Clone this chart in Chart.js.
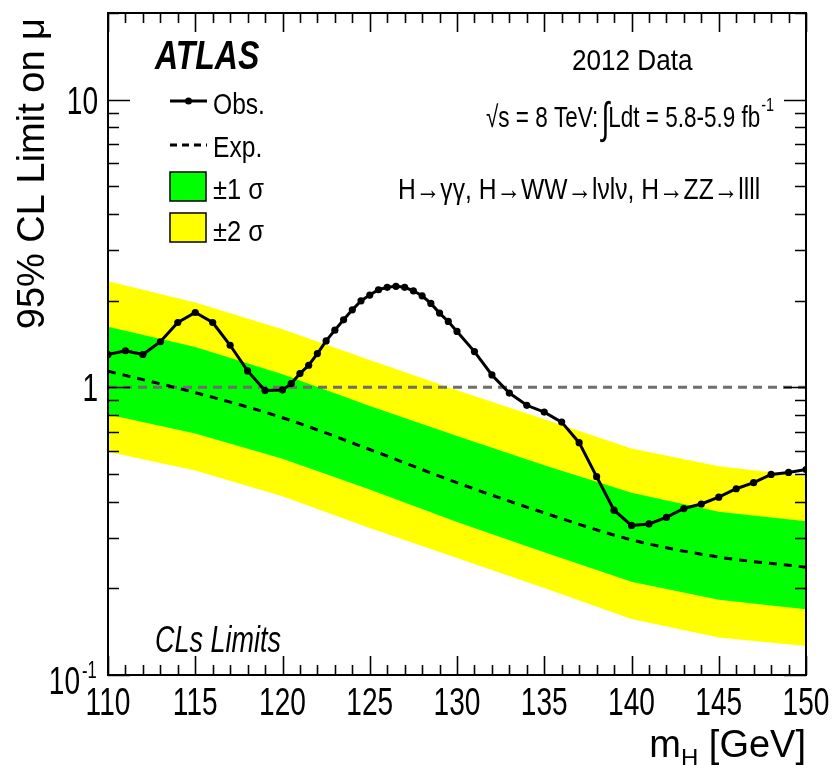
<!DOCTYPE html>
<html>
<head>
<meta charset="utf-8">
<script src="https://cdn.jsdelivr.net/npm/chart.js@4.4.1/dist/chart.umd.min.js"></script>
<style>
  html, body { margin: 0; padding: 0; background: #fff; }
  #wrap { width: 834px; height: 765px; }
</style>
</head>
<body>
<div id="wrap"><canvas id="limitChart" width="834" height="765"></canvas></div>
<script>
// observed limit, mass points in GeV
const obsMass = [110, 111, 112, 113, 114, 115, 116, 117, 118, 119, 120,
  120.5, 121, 121.5, 122, 122.5, 123, 123.5, 124, 124.5, 125, 125.5, 126,
  126.5, 127, 127.5, 128, 128.5, 129, 129.5, 130, 131, 132, 133, 134, 135,
  136, 137, 138, 139, 140, 141, 142, 143, 144, 145, 146, 147, 148, 149, 150];
const obsLimit = [1.30, 1.34, 1.30, 1.44, 1.68, 1.82, 1.68, 1.40, 1.14, 0.974, 0.979,
  1.03, 1.116, 1.193, 1.31, 1.45, 1.58, 1.716, 1.859, 1.998, 2.092, 2.183, 2.226,
  2.244, 2.226, 2.165, 2.08, 1.957, 1.811, 1.694, 1.564, 1.331, 1.104, 0.955, 0.866, 0.82,
  0.757, 0.642, 0.489, 0.374, 0.331, 0.335, 0.353, 0.379, 0.393, 0.415, 0.444, 0.466, 0.498, 0.506, 0.518];

// expected limit and bands
const bandMass = [110, 115, 120, 125, 130, 135, 140, 145, 150];
const expLimit = [1.137, 0.958, 0.784, 0.608, 0.466, 0.366, 0.295, 0.257, 0.237];
const plus1Sigma = [1.622, 1.382, 1.110, 0.861, 0.677, 0.536, 0.430, 0.369, 0.342];
const minus1Sigma = [0.805, 0.691, 0.564, 0.441, 0.340, 0.267, 0.211, 0.1825, 0.1694];
const plus2Sigma = [2.335, 1.973, 1.592, 1.245, 0.976, 0.774, 0.613, 0.532, 0.491];
const minus2Sigma = [0.597, 0.514, 0.418, 0.324, 0.255, 0.2005, 0.1567, 0.135, 0.126];

const xTicks = [110, 115, 120, 125, 130, 135, 140, 145, 150];
const yTickLabels = [["1", 1], ["10", 10]];

const FONT = "'Liberation Sans', Arial, sans-serif";
const YELLOW = "#ffff00";
const GREEN = "#00ff00";

const pts = (xs, ys) => xs.map((x, i) => ({ x, y: ys[i] }));

// text with horizontal squeeze, returns drawn width
function txt(ctx, s, x, y, size, opt = {}) {
  const sx = opt.sx || 1;
  ctx.save();
  ctx.font = `${opt.style || ""} ${size}px ${FONT}`;
  ctx.textAlign = opt.align || "left";
  ctx.textBaseline = "alphabetic";
  ctx.translate(x, y);
  ctx.scale(sx, 1);
  ctx.fillText(s, 0, 0);
  const w = ctx.measureText(s).width * sx;
  ctx.restore();
  return w;
}

/* frame, inner ticks, labels, titles, legend */
const decorPlugin = {
  id: "decor",
  afterDatasetsDraw(chart) {
    const { ctx, chartArea: a, scales } = chart;
    const xs = scales.x, ys = scales.y;
    ctx.save();
    ctx.strokeStyle = "#000";
    ctx.fillStyle = "#000";
    ctx.lineWidth = 1.6;
    ctx.beginPath();
    for (let m = 110; m <= 150; m++) {
      const px = Math.round(xs.getPixelForValue(m)) + 0.5;
      const len = m % 5 === 0 ? 19 : 10;
      ctx.moveTo(px, a.bottom); ctx.lineTo(px, a.bottom - len);
      ctx.moveTo(px, a.top); ctx.lineTo(px, a.top + len);
    }
    [0.1, 1, 10].forEach((dec) => {
      for (let k = 1; k <= 9; k++) {
        const v = dec * k;
        if (v > 20.01) continue;
        const py = Math.round(ys.getPixelForValue(v)) + 0.5;
        const len = k === 1 ? 22 : 11;
        ctx.moveTo(a.left, py); ctx.lineTo(a.left + len, py);
        ctx.moveTo(a.right, py); ctx.lineTo(a.right - len, py);
      }
    });
    ctx.stroke();
    ctx.lineWidth = 2;
    ctx.strokeRect(a.left, a.top, a.right - a.left, a.bottom - a.top);

    // tick labels
    xTicks.forEach((m) => {
      txt(ctx, String(m), xs.getPixelForValue(m), 715, 39, { sx: 0.72, align: "center" });
    });
    yTickLabels.forEach(([s, v]) => {
      txt(ctx, s, 98, ys.getPixelForValue(v) + 14, 39, { sx: 0.72, align: "right" });
    });
    const y01 = ys.getPixelForValue(0.1);
    txt(ctx, "10", 80, y01 + 19, 39, { sx: 0.72, align: "right" });
    txt(ctx, "-1", 82, y01 + 3, 23, { sx: 0.72 });

    // x title
    let w = txt(ctx, " [GeV]", a.right, 757, 38, { sx: 1, align: "right" });
    const wh = txt(ctx, "H", a.right - w, 766, 24, { sx: 1, align: "right" });
    txt(ctx, "m", a.right - w - wh, 757, 38, { sx: 1, align: "right" });

    // y title
    ctx.save();
    ctx.translate(44, 18);
    ctx.rotate(-Math.PI / 2);
    txt(ctx, "95% CL Limit on \u03bc", 0, 0, 38, { align: "right" });
    ctx.restore();

    // labels in the frame
    txt(ctx, "ATLAS", 155, 69, 40, { style: "italic bold", sx: 0.8 });
    txt(ctx, "CLs Limits", 155, 652, 36, { style: "italic", sx: 0.75 });
    txt(ctx, "2012 Data", 572, 70, 30, { sx: 0.87 });
    let tx = 486;
    tx += txt(ctx, "\u221as = 8 TeV: ", tx, 127, 30, { sx: 0.75 });
    tx += txt(ctx, "\u222b", tx - 3, 133, 44, { sx: 0.65 }) - 4;
    tx += txt(ctx, "Ldt = 5.8-5.9 fb", tx, 127, 30, { sx: 0.75 });
    txt(ctx, "-1", tx + 1, 111, 18, { sx: 0.8 });
    txt(ctx, "H\u2192\u03b3\u03b3, H\u2192WW\u2192l\u03bdl\u03bd, H\u2192ZZ\u2192llll", 398, 199, 30, { sx: 0.82 });

    // legend
    ctx.lineWidth = 3;
    ctx.beginPath(); ctx.moveTo(170, 101); ctx.lineTo(207, 101); ctx.stroke();
    ctx.beginPath(); ctx.arc(188.5, 101, 3.5, 0, Math.PI * 2); ctx.fill();
    ctx.setLineDash([7, 5]);
    ctx.beginPath(); ctx.moveTo(170, 145); ctx.lineTo(207, 145); ctx.stroke();
    ctx.setLineDash([]);
    ctx.lineWidth = 1.5;
    ctx.fillStyle = GREEN;
    ctx.fillRect(170, 172, 36, 29); ctx.strokeRect(170, 172, 36, 29);
    ctx.fillStyle = YELLOW;
    ctx.fillRect(170, 213, 36, 29); ctx.strokeRect(170, 213, 36, 29);
    ctx.fillStyle = "#000";
    txt(ctx, "Obs.", 213, 114, 30, { sx: 0.82 });
    txt(ctx, "Exp.", 213, 157, 30, { sx: 0.82 });
    txt(ctx, "\u00b11 \u03c3", 213, 199, 30, { sx: 0.85 });
    txt(ctx, "\u00b12 \u03c3", 213, 241, 30, { sx: 0.85 });
    ctx.restore();
  },
};

const bandStyle = { borderWidth: 0, pointRadius: 0, tension: 0 };

new Chart(document.getElementById("limitChart"), {
  type: "line",
  data: {
    datasets: [
      { data: pts(bandMass, plus2Sigma), fill: "+1", backgroundColor: YELLOW, order: 10, ...bandStyle },
      { data: pts(bandMass, minus2Sigma), fill: false, order: 10, ...bandStyle },
      { data: pts(bandMass, plus1Sigma), fill: "+1", backgroundColor: GREEN, order: 9, ...bandStyle },
      { data: pts(bandMass, minus1Sigma), fill: false, order: 9, ...bandStyle },
      {
        data: [{ x: 110, y: 1 }, { x: 150, y: 1 }],
        borderColor: "#6e6e6e", borderWidth: 3, borderDash: [9, 6],
        pointRadius: 0, fill: false, order: 8,
      },
      {
        data: pts(bandMass, expLimit),
        borderColor: "#000", borderWidth: 3, borderDash: [8, 7],
        pointRadius: 0, fill: false, order: 7, cubicInterpolationMode: "monotone",
      },
      {
        data: pts(obsMass, obsLimit),
        borderColor: "#000", backgroundColor: "#000", borderWidth: 3,
        pointRadius: 3.6, pointBorderWidth: 0, fill: false, order: 6,
      },
    ],
  },
  options: {
    responsive: false,
    animation: false,
    layout: { padding: { left: 0, right: 28, top: 13, bottom: 0 } },
    plugins: { legend: { display: false }, tooltip: { enabled: false } },
    scales: {
      x: {
        type: "linear", min: 110, max: 150,
        grid: { display: false, drawTicks: false },
        border: { display: false },
        ticks: { display: false },
        afterFit: (s) => { s.height = 90; s.paddingLeft = 0; s.paddingRight = 0; },
      },
      y: {
        type: "logarithmic", min: 0.1, max: 20,
        grid: { display: false, drawTicks: false },
        border: { display: false },
        ticks: { display: false },
        afterFit: (s) => { s.width = 108; s.paddingTop = 0; s.paddingBottom = 0; },
      },
    },
  },
  plugins: [decorPlugin],
});
</script>
</body>
</html>
